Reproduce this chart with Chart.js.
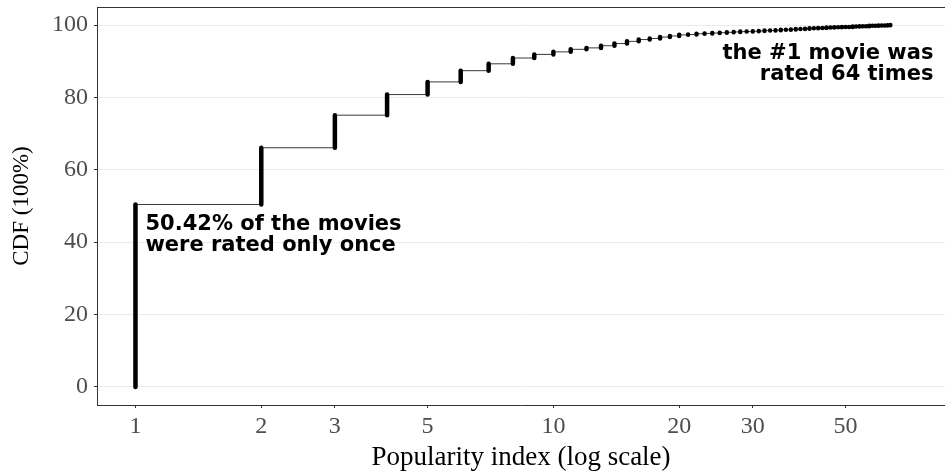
<!DOCTYPE html>
<html>
<head>
<meta charset="utf-8">
<script src="https://cdn.jsdelivr.net/npm/chart.js@4.4.1/dist/chart.umd.min.js"></script>
<style>
  html, body { margin: 0; padding: 0; background: #fff; }
  #wrap { width: 945px; height: 474px; position: relative; }
</style>
</head>
<body>
<div id="wrap"><canvas id="cdfChart"></canvas></div>
<script>
// number of ratings per movie and cumulative share of movies (%)
const ratingCounts = [
  1, 2, 3, 4, 5, 6, 7, 8, 9, 10, 11, 12, 13, 14, 15, 16, 17, 18, 19, 20, 21,
  22, 23, 24, 25, 26, 27, 28, 29, 30, 31, 32, 33, 34, 35, 36, 37, 38, 39, 40,
  41, 42, 43, 44, 45, 46, 47, 48, 49, 50, 51, 52, 53, 54, 55, 56, 57, 58, 59,
  60, 61, 62, 63, 64
];
const cdfPercent = [
  50.42, 66.1, 75.1, 80.8, 84.3, 87.4, 89.3, 90.9, 91.9, 92.6, 93.3, 93.7, 94.3,
  94.9, 95.5, 96.0, 96.3, 96.7, 97.0, 97.3, 97.4,
  97.6, 97.7, 97.8, 97.9, 98.0, 98.1, 98.2, 98.2, 98.3, 98.4, 98.5, 98.5, 98.6,
  98.7, 98.7, 98.8, 98.9, 98.9, 99.0, 99.1, 99.1, 99.2, 99.2, 99.3, 99.3, 99.4,
  99.4, 99.5, 99.5, 99.5, 99.6, 99.6, 99.7, 99.7, 99.7, 99.8, 99.8, 99.8, 99.9,
  99.9, 99.9, 99.95, 100
];
const xTickValues = [1, 2, 3, 5, 10, 20, 30, 50];
const yTickValues = [0, 20, 40, 60, 80, 100];
const noteOnce = ['50.42% of the movies', 'were rated only once'];
const noteTop = ['the #1 movie was', 'rated 64 times'];

// step line through the CDF
const stepPts = ratingCounts.map((c, i) => ({ x: c, y: cdfPercent[i] }));

// thick vertical runs: all movies with the same count stacked from the previous level
const runPts = [];
ratingCounts.forEach((c, i) => {
  const prev = i === 0 ? 0 : cdfPercent[i - 1];
  runPts.push({ x: c, y: prev }, { x: c, y: cdfPercent[i] }, { x: c, y: null });
});

const serif = '"Liberation Serif", "DejaVu Serif", serif';

const framePlugin = {
  id: 'frame',
  beforeDatasetsDraw(chart) {
    const { ctx, chartArea } = chart;
    ctx.save();
    ctx.strokeStyle = '#333';
    ctx.lineWidth = 1;
    ctx.beginPath();
    ctx.moveTo(chartArea.left, chartArea.top + 0.5);
    ctx.lineTo(chartArea.right, chartArea.top + 0.5);
    ctx.stroke();
    ctx.restore();
  }
};

// bold text notes anchored in data space (baseline of first line)
const notesPlugin = {
  id: 'notes',
  afterDatasetsDraw(chart, args, opts) {
    const { ctx, scales } = chart;
    ctx.save();
    ctx.fillStyle = '#000';
    ctx.font = 'bold 21px "DejaVu Sans", sans-serif';
    ctx.textBaseline = 'alphabetic';
    opts.items.forEach(n => {
      ctx.textAlign = n.align;
      const x = scales.x.getPixelForValue(n.x);
      const y0 = scales.y.getPixelForValue(n.y);
      n.lines.forEach((t, k) => ctx.fillText(t, x, y0 + k * n.step));
    });
    ctx.restore();
  }
};

new Chart(document.getElementById('cdfChart'), {
  type: 'line',
  data: {
    datasets: [
      {
        data: runPts,
        borderColor: '#000',
        borderWidth: 4.5,
        borderCapStyle: 'round',
        pointRadius: 0,
        spanGaps: false
      },
      {
        data: stepPts,
        stepped: true,
        borderColor: '#3a3a3a',
        borderWidth: 1,
        pointRadius: 0
      }
    ]
  },
  options: {
    responsive: true,
    maintainAspectRatio: false,
    animation: false,
    layout: { padding: { top: 7, right: 0, left: 0, bottom: 0 } },
    plugins: {
      legend: { display: false },
      tooltip: { enabled: false },
      notes: {
        items: [
          { lines: noteOnce, x: 1.0566, y: 43.26, step: 21, align: 'left' },
          { lines: noteTop, x: 81.15, y: 90.5, step: 20.7, align: 'right' }
        ]
      }
    },
    scales: {
      x: {
        type: 'logarithmic',
        min: 0.809,
        max: 86.5,
        afterBuildTicks: s => { s.ticks = xTickValues.map(v => ({ value: v })); },
        afterFit: s => { s.height = 69; s.paddingLeft = 0; s.paddingRight = 0; },
        grid: { drawOnChartArea: false, drawTicks: true, tickLength: 3, tickColor: '#333' },
        border: { color: '#333', width: 1 },
        ticks: {
          autoSkip: false,
          maxRotation: 0,
          padding: 4,
          color: '#4d4d4d',
          font: { family: serif, size: 24 },
          callback: v => String(v)
        },
        title: {
          display: true,
          text: 'Popularity index (log scale)',
          color: '#000',
          font: { family: serif, size: 27 },
          padding: { top: 0, bottom: 0 }
        }
      },
      y: {
        min: -5,
        max: 105,
        afterBuildTicks: s => { s.ticks = yTickValues.map(v => ({ value: v })); },
        afterFit: s => { s.width = 97; s.paddingTop = 0; s.paddingBottom = 0; },
        grid: { color: '#ebebeb', lineWidth: 1, drawTicks: true, tickLength: 3, tickColor: '#333' },
        border: { color: '#333', width: 1 },
        ticks: {
          padding: 6,
          color: '#4d4d4d',
          font: { family: serif, size: 24 }
        },
        title: {
          display: true,
          text: 'CDF (100%)',
          color: '#000',
          font: { family: serif, size: 23 },
          padding: { top: 8, bottom: 0 }
        }
      }
    }
  },
  plugins: [framePlugin, notesPlugin]
});
</script>
</body>
</html>
